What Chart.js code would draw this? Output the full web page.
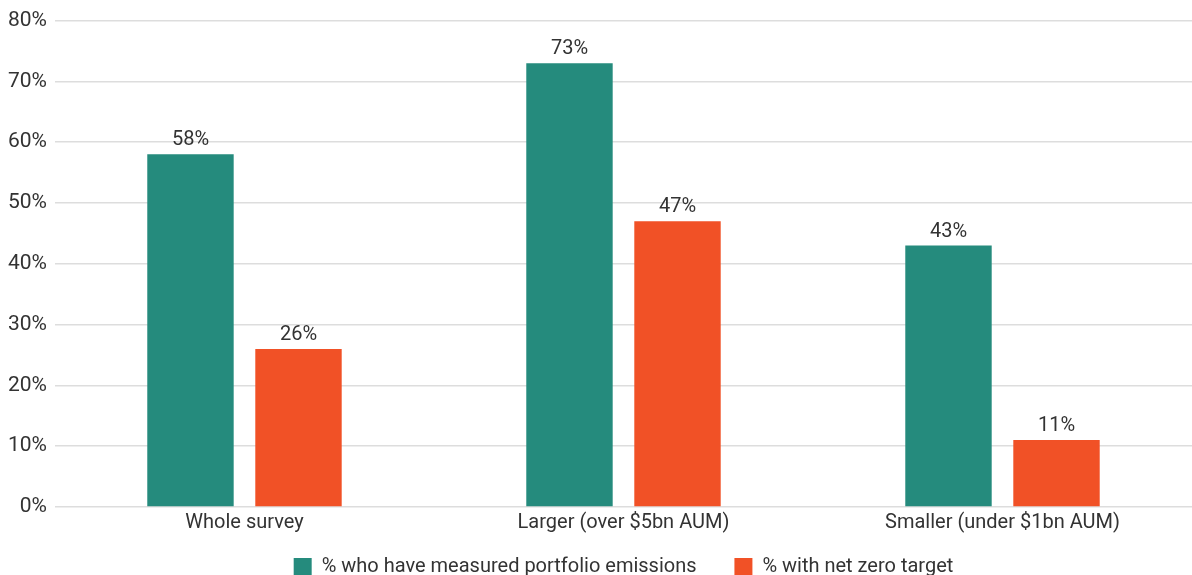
<!DOCTYPE html>
<html>
<head>
<meta charset="utf-8">
<script src="https://cdn.jsdelivr.net/npm/chart.js@4/dist/chart.umd.min.js"></script>
<style>
  html, body { margin: 0; padding: 0; background: #fff; overflow: hidden; }
  #wrap { position: relative; width: 1192px; height: 587px; }
</style>
</head>
<body>
<div id="wrap"><canvas id="chart"></canvas></div>
<script>
  // survey groups and shares (%)
  const categories = ['Whole survey', 'Larger (over $5bn AUM)', 'Smaller (under $1bn AUM)'];
  const measuredEmissions = [58, 73, 43];
  const netZeroTarget = [26, 47, 11];
  const seriesNames = ['% who have measured portfolio emissions', '% with net zero target'];
  const seriesColors = ['#258b7d', '#f15126'];

  const TEXT = '#333333';
  const FONT = 'Roboto, "Liberation Sans", sans-serif';

  // values above each bar
  const barLabels = {
    id: 'barLabels',
    afterDatasetsDraw(chart) {
      const ctx = chart.ctx;
      ctx.save();
      ctx.font = '20px ' + FONT;
      ctx.fillStyle = TEXT;
      ctx.textAlign = 'center';
      ctx.textBaseline = 'bottom';
      chart.data.datasets.forEach((ds, i) => {
        chart.getDatasetMeta(i).data.forEach((bar, j) => {
          ctx.fillText(ds.data[j] + '%', bar.x, bar.y - 4);
        });
      });
      ctx.restore();
    }
  };

  new Chart(document.getElementById('chart'), {
    type: 'bar',
    data: {
      labels: categories,
      datasets: [
        { label: seriesNames[0], data: measuredEmissions, backgroundColor: seriesColors[0] },
        { label: seriesNames[1], data: netZeroTarget, backgroundColor: seriesColors[1] }
      ]
    },
    options: {
      responsive: true,
      maintainAspectRatio: false,
      animation: false,
      categoryPercentage: 0.57,
      barPercentage: 0.8,
      layout: { padding: { top: 10, left: 0, right: 0, bottom: 0 } },
      plugins: {
        legend: {
          position: 'bottom',
          fullSize: false,
          labels: {
            boxWidth: 18,
            boxHeight: 18,
            padding: 18,
            color: TEXT,
            font: { family: FONT, size: 20 },
            // a little extra room between the two legend entries
            generateLabels(chart) {
              const items = Chart.defaults.plugins.legend.labels.generateLabels(chart);
              items.forEach((it, i) => { if (i < items.length - 1) it.text += '    '; });
              return items;
            }
          }
        },
        tooltip: { enabled: false }
      },
      scales: {
        x: {
          grid: { display: false, drawTicks: false },
          border: { display: false },
          ticks: { color: TEXT, font: { family: FONT, size: 20 }, padding: 4 }
        },
        y: {
          min: 0,
          max: 80,
          ticks: {
            stepSize: 10,
            color: TEXT,
            padding: 8,
            font: { family: FONT, size: 21 },
            callback: v => v + '%'
          },
          grid: { color: '#dddddd', lineWidth: 1.5, drawTicks: false },
          border: { display: false }
        }
      }
    },
    plugins: [barLabels]
  });
</script>
</body>
</html>
